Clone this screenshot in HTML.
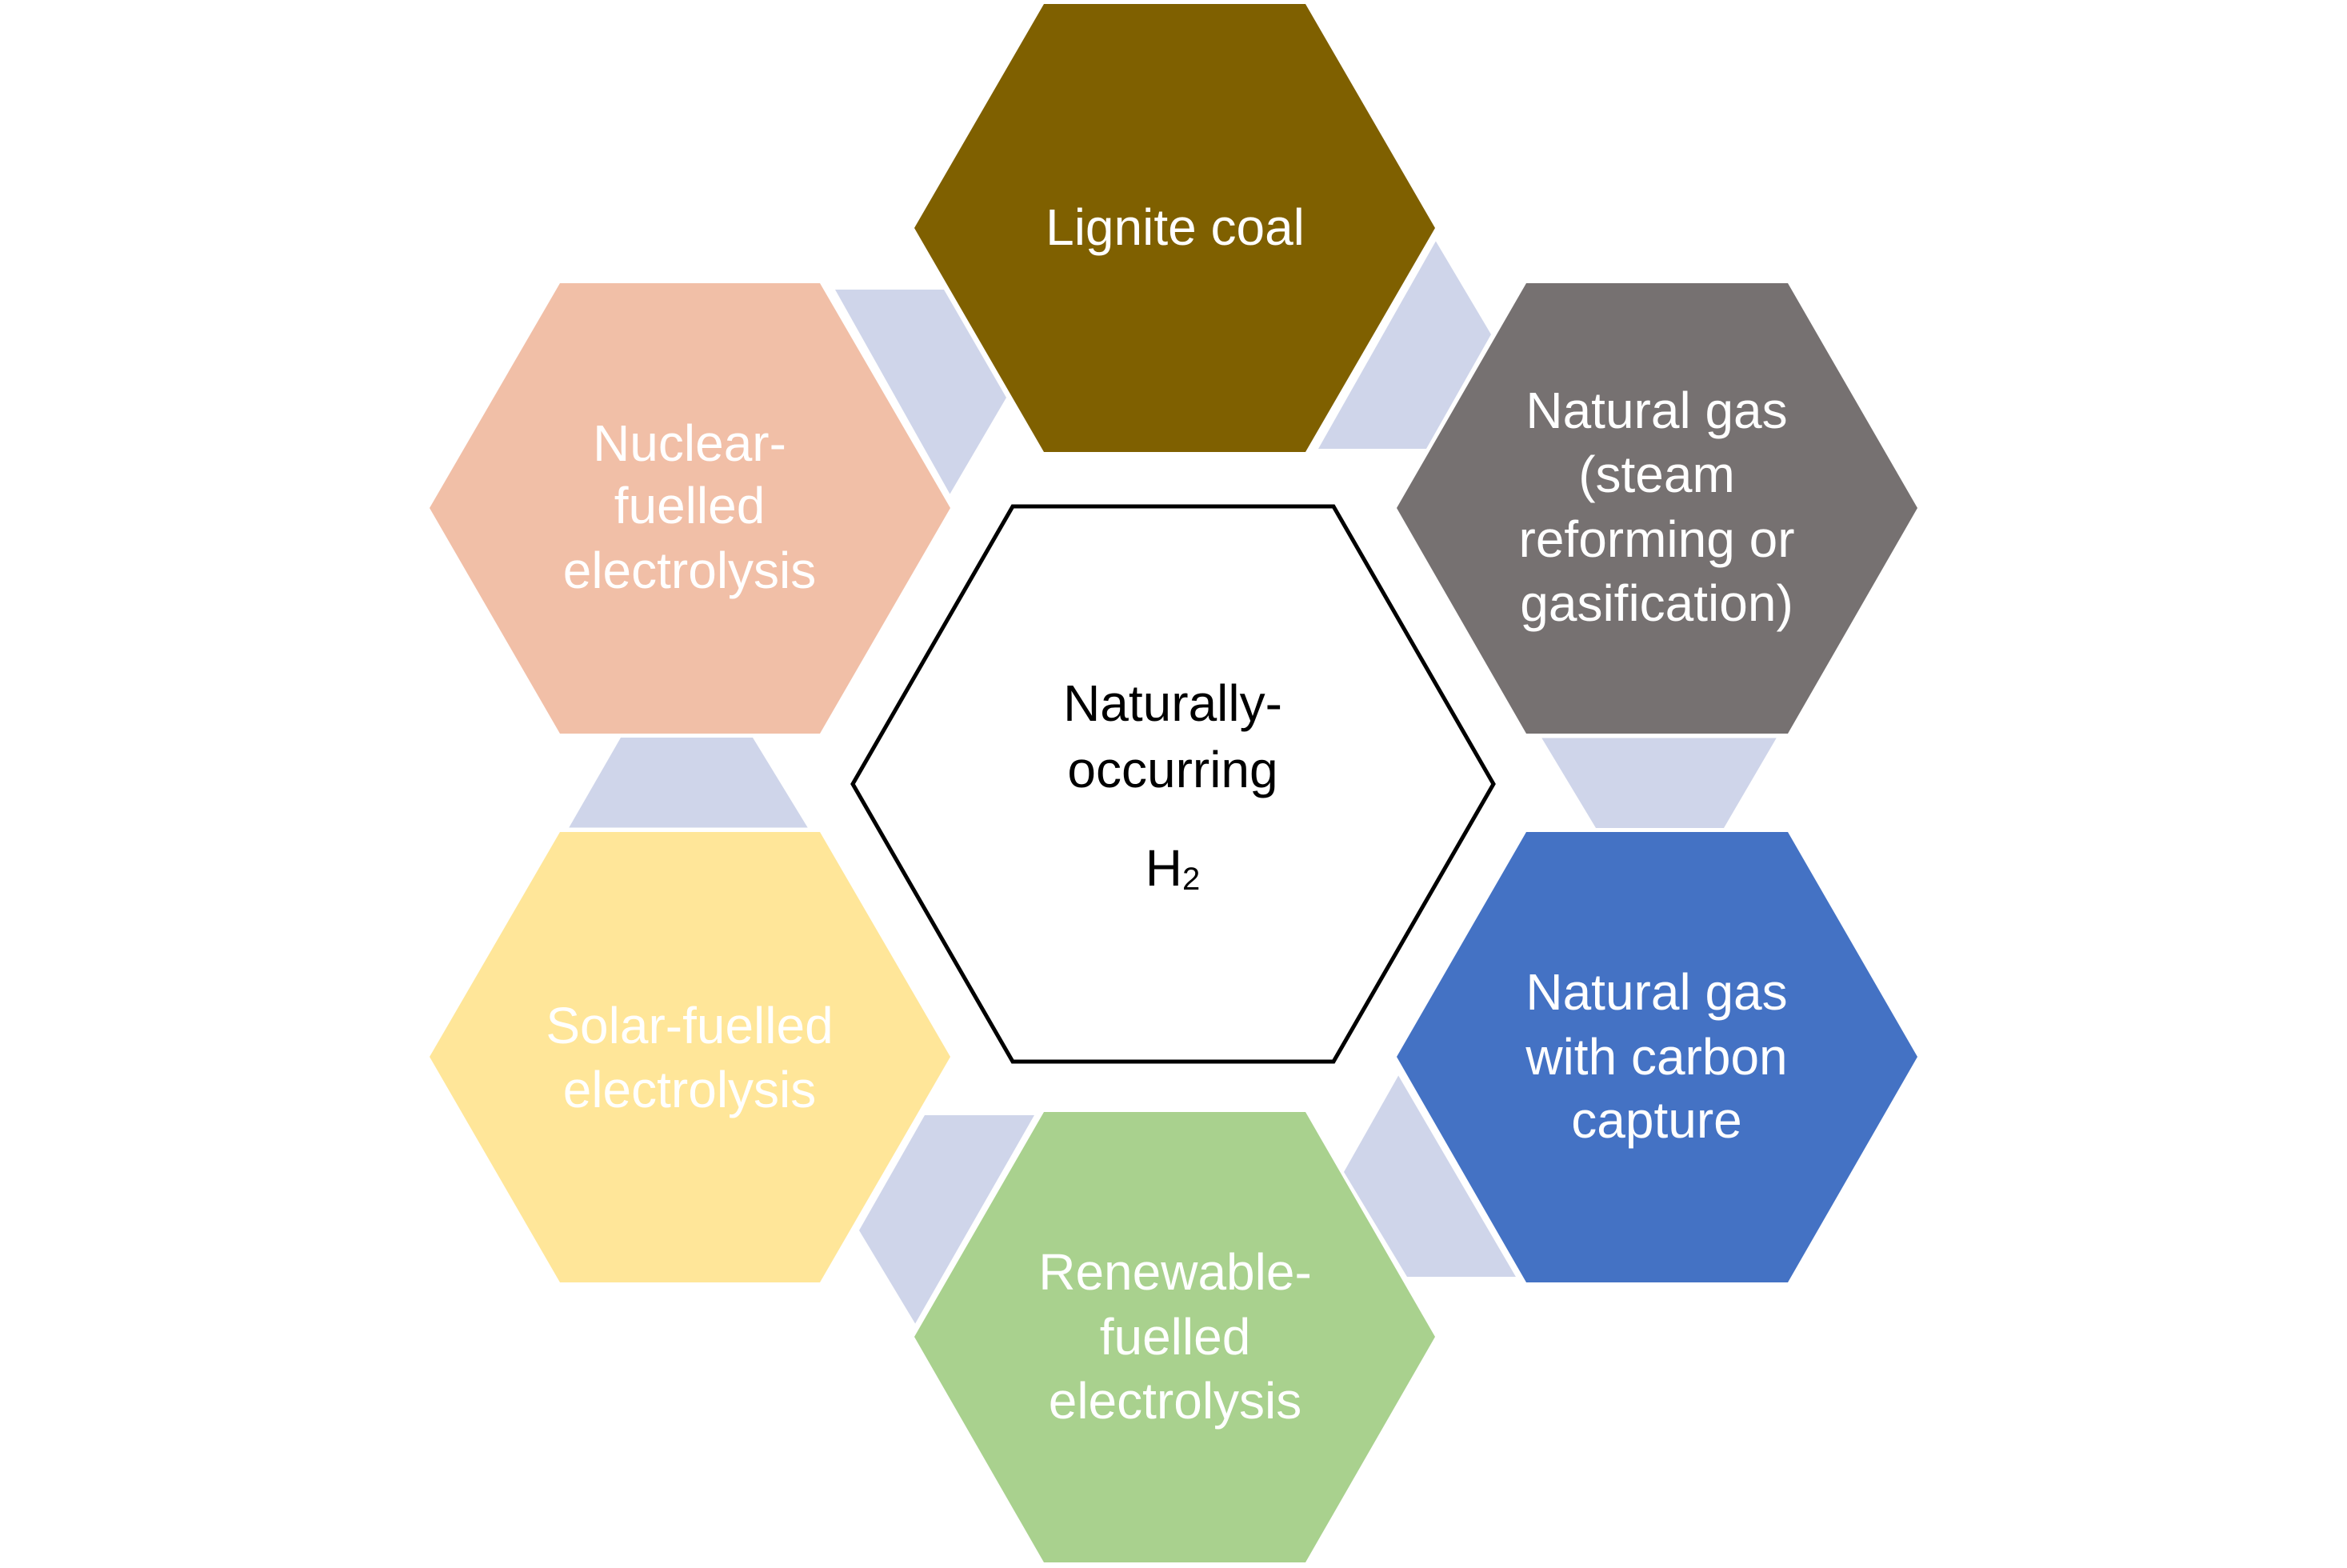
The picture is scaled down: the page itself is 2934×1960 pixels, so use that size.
<!DOCTYPE html>
<html><head><meta charset="utf-8"><style>
html,body{margin:0;padding:0;background:#fff;}
svg{display:block;}
text{font-family:"Liberation Sans",Arial,sans-serif;font-size:64px;text-anchor:middle;dominant-baseline:central;}
.w{fill:#fff;}
</style></head><body>
<svg width="2934" height="1960" viewBox="0 0 2934 1960" xmlns="http://www.w3.org/2000/svg">
<g fill="#CFD5EA">
<polygon points="1040,362 1180,362 1258,497 1186,620"/>
<polygon points="1794,300 1864,418 1783,561 1644,561"/>
<polygon points="1927,922 2221,922 2155,1035 1995,1035"/>
<polygon points="1749,1343 1899,1596 1759,1596 1680,1465"/>
<polygon points="1156,1394 1297,1394 1145,1656 1074,1538"/>
<polygon points="776,922 941,922 1010,1035 711,1035"/>
</g>
<polygon points="1305,5 1632,5 1794,285 1632,565 1305,565 1143,285" fill="#7F6000"/>
<polygon points="1908,354 2235,354 2397,635 2235,917 1908,917 1746,635" fill="#767171"/>
<polygon points="1908,1040 2235,1040 2397,1321 2235,1603 1908,1603 1746,1321" fill="#4472C4"/>
<polygon points="1305,1390 1632,1390 1794,1671 1632,1953 1305,1953 1143,1671" fill="#A9D18E"/>
<polygon points="700,1040 1025,1040 1188,1321 1025,1603 700,1603 537,1321" fill="#FFE699"/>
<polygon points="700,354 1025,354 1188,635 1025,917 700,917 537,635" fill="#F1BFA7"/>
<g stroke="#fff" stroke-width="5" fill="none">
<line x1="1040" y1="360" x2="1186" y2="620"/>
<line x1="1794" y1="298" x2="1644" y2="563"/>
<line x1="1927" y1="920" x2="2221" y2="920"/>
<line x1="1749" y1="1341" x2="1899" y2="1598"/>
<line x1="1297" y1="1392" x2="1145" y2="1658"/>
<line x1="711" y1="1037" x2="1010" y2="1037"/>
</g>
<polygon points="1266,633 1667,633 1867,980 1667,1327 1266,1327 1066,980" fill="#fff" stroke="#000" stroke-width="5"/>
<text class="w" x="1469" y="284">Lignite coal</text>
<text class="w" x="2071" y="513">Natural gas</text>
<text class="w" x="2071" y="593">(steam</text>
<text class="w" x="2071" y="674">reforming or</text>
<text class="w" x="2071" y="754">gasification)</text>
<text class="w" x="2071" y="1240">Natural gas</text>
<text class="w" x="2071" y="1321">with carbon</text>
<text class="w" x="2071" y="1400">capture</text>
<text class="w" x="1469" y="1590">Renewable-</text>
<text class="w" x="1469" y="1671">fuelled</text>
<text class="w" x="1469" y="1751">electrolysis</text>
<text class="w" x="862" y="1282">Solar-fuelled</text>
<text class="w" x="862" y="1362">electrolysis</text>
<text class="w" x="862" y="554">Nuclear-</text>
<text class="w" x="862" y="632">fuelled</text>
<text class="w" x="862" y="713">electrolysis</text>
<text x="1466" y="879" fill="#000">Naturally-</text>
<text x="1466" y="962" fill="#000">occurring</text>
<text x="1466" y="1085" fill="#000">H<tspan font-size="40" dy="14">2</tspan></text>
</svg>
</body></html>
